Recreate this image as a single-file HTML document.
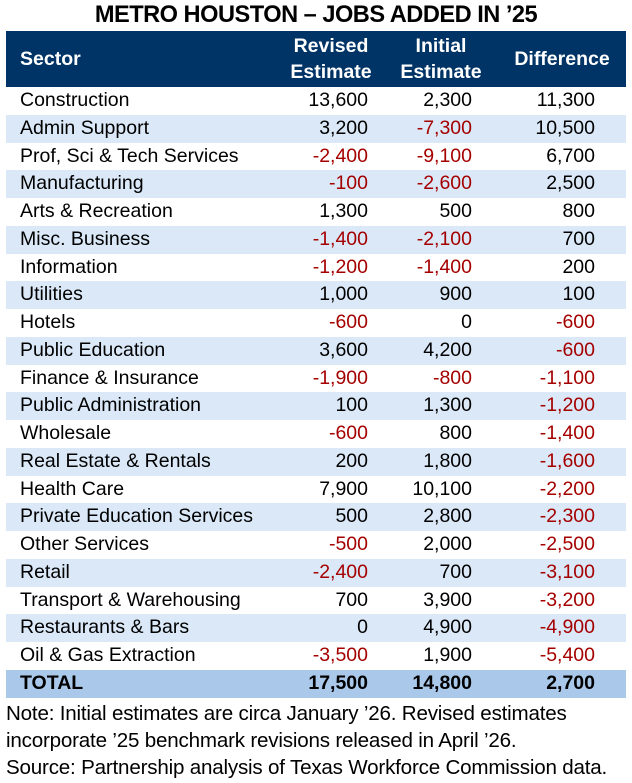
<!DOCTYPE html>
<html><head><meta charset="utf-8"><style>
body{margin:0;width:632px;height:783px;background:#fff;font-family:"Liberation Sans",sans-serif;position:relative;overflow:hidden;color:#000}
.t{position:absolute;left:0;width:632px;top:2px;text-align:center;font-weight:bold;font-size:23.6px;letter-spacing:-0.5px}
.hd{position:absolute;left:6px;width:620px;top:31px;height:56px;background:#003366;color:#fff;font-weight:bold;font-size:19.5px}
.hd div{position:absolute;line-height:26px;text-align:center}
.r{position:absolute;left:6px;width:620px;height:27.75px;font-size:19.5px;line-height:27.75px}
.r.b{background:#dae8f7}
.r.tot{background:#a9c8ea;font-weight:bold}
.r span{position:absolute;top:0}
.s{left:14px}
.c1{right:258px}.c2{right:154px}.c3{right:31px}
.n{color:#a50000}
.note{position:absolute;left:6px;top:700px;font-size:20.6px;line-height:27px;letter-spacing:-0.2px;white-space:nowrap}
</style></head><body>
<div class="t">METRO HOUSTON – JOBS ADDED IN ’25</div>
<div class="hd">
<div style="left:14px;top:15px">Sector</div>
<div style="left:270px;width:110px;top:2px">Revised<br>Estimate</div>
<div style="left:382px;width:106px;top:2px">Initial<br>Estimate</div>
<div style="left:494px;width:124px;top:15px">Difference</div>
</div>
<div class="note">Note: Initial estimates are circa January ’26. Revised estimates<br>incorporate ’25 benchmark revisions released in April ’26.<br>Source: Partnership analysis of Texas Workforce Commission data.</div>
<div class="r" style="top:87px"><span class="s">Construction</span><span class="c1">13,600</span><span class="c2">2,300</span><span class="c3">11,300</span></div>
<div class="r b" style="top:114.75px"><span class="s">Admin Support</span><span class="c1">3,200</span><span class="c2 n">-7,300</span><span class="c3">10,500</span></div>
<div class="r" style="top:142.5px"><span class="s">Prof, Sci &amp; Tech Services</span><span class="c1 n">-2,400</span><span class="c2 n">-9,100</span><span class="c3">6,700</span></div>
<div class="r b" style="top:170.25px"><span class="s">Manufacturing</span><span class="c1 n">-100</span><span class="c2 n">-2,600</span><span class="c3">2,500</span></div>
<div class="r" style="top:198px"><span class="s">Arts &amp; Recreation</span><span class="c1">1,300</span><span class="c2">500</span><span class="c3">800</span></div>
<div class="r b" style="top:225.75px"><span class="s">Misc. Business</span><span class="c1 n">-1,400</span><span class="c2 n">-2,100</span><span class="c3">700</span></div>
<div class="r" style="top:253.5px"><span class="s">Information</span><span class="c1 n">-1,200</span><span class="c2 n">-1,400</span><span class="c3">200</span></div>
<div class="r b" style="top:281.25px"><span class="s">Utilities</span><span class="c1">1,000</span><span class="c2">900</span><span class="c3">100</span></div>
<div class="r" style="top:309px"><span class="s">Hotels</span><span class="c1 n">-600</span><span class="c2">0</span><span class="c3 n">-600</span></div>
<div class="r b" style="top:336.75px"><span class="s">Public Education</span><span class="c1">3,600</span><span class="c2">4,200</span><span class="c3 n">-600</span></div>
<div class="r" style="top:364.5px"><span class="s">Finance &amp; Insurance</span><span class="c1 n">-1,900</span><span class="c2 n">-800</span><span class="c3 n">-1,100</span></div>
<div class="r b" style="top:392.25px"><span class="s">Public Administration</span><span class="c1">100</span><span class="c2">1,300</span><span class="c3 n">-1,200</span></div>
<div class="r" style="top:420px"><span class="s">Wholesale</span><span class="c1 n">-600</span><span class="c2">800</span><span class="c3 n">-1,400</span></div>
<div class="r b" style="top:447.75px"><span class="s">Real Estate &amp; Rentals</span><span class="c1">200</span><span class="c2">1,800</span><span class="c3 n">-1,600</span></div>
<div class="r" style="top:475.5px"><span class="s">Health Care</span><span class="c1">7,900</span><span class="c2">10,100</span><span class="c3 n">-2,200</span></div>
<div class="r b" style="top:503.25px"><span class="s">Private Education Services</span><span class="c1">500</span><span class="c2">2,800</span><span class="c3 n">-2,300</span></div>
<div class="r" style="top:531px"><span class="s">Other Services</span><span class="c1 n">-500</span><span class="c2">2,000</span><span class="c3 n">-2,500</span></div>
<div class="r b" style="top:558.75px"><span class="s">Retail</span><span class="c1 n">-2,400</span><span class="c2">700</span><span class="c3 n">-3,100</span></div>
<div class="r" style="top:586.5px"><span class="s">Transport &amp; Warehousing</span><span class="c1">700</span><span class="c2">3,900</span><span class="c3 n">-3,200</span></div>
<div class="r b" style="top:614.25px"><span class="s">Restaurants &amp; Bars</span><span class="c1">0</span><span class="c2">4,900</span><span class="c3 n">-4,900</span></div>
<div class="r" style="top:642px"><span class="s">Oil &amp; Gas Extraction</span><span class="c1 n">-3,500</span><span class="c2">1,900</span><span class="c3 n">-5,400</span></div>
<div class="r tot" style="top:669.75px"><span class="s">TOTAL</span><span class="c1">17,500</span><span class="c2">14,800</span><span class="c3">2,700</span></div>
</body></html>
